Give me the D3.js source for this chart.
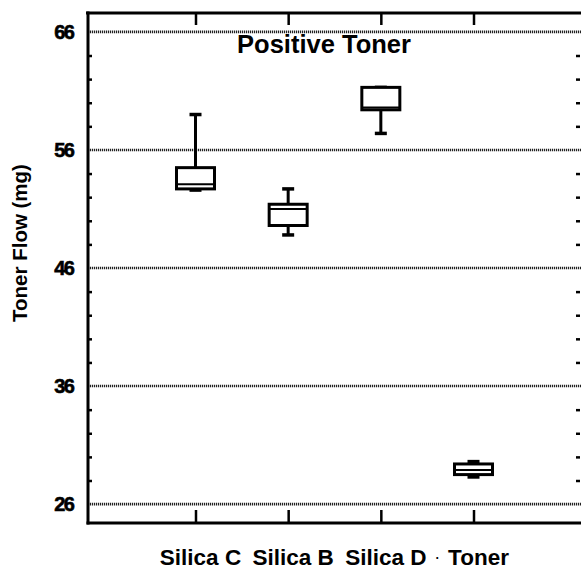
<!DOCTYPE html>
<html>
<head>
<meta charset="utf-8">
<script src="https://cdn.jsdelivr.net/npm/d3@7"></script>
<style>
  body { margin: 0; background: #fff; }
  svg { display: block; font-family: "Liberation Sans", Arial, sans-serif; }
</style>
</head>
<body>
<div id="chart"></div>
<script>
const categories = ['Silica C', 'Silica B', 'Silica D', 'Toner'];
const mins = [52.6, 48.8, 57.4, 28.3];
const q1s = [52.7, 49.6, 59.4, 28.5];
const medians = [53.1, 51.0, 59.6, 28.9];
const q3s = [54.5, 51.4, 61.3, 29.4];
const maxs = [59.0, 52.7, 61.3, 29.6];
const yTicks = [26, 36, 46, 56, 66];
const title = 'Positive Toner';
const yLabel = 'Toner Flow (mg)';

const W = 581, H = 571;
const plotLeft = 88, plotRight = 581, plotTop = 13, plotBottom = 523;

const svg = d3.select('#chart')
  .append('svg')
  .attr('width', W)
  .attr('height', H);

const x = d3.scalePoint()
  .domain(categories)
  .range([plotLeft, plotRight])
  .padding(1.16);

const y = d3.scaleLinear()
  .domain([24.4, 67.6])
  .range([plotBottom, plotTop]);

// dotted grid lines at the labelled values
svg.append('g')
  .selectAll('line')
  .data(yTicks)
  .enter()
  .append('line')
  .attr('x1', plotLeft)
  .attr('x2', plotRight)
  .attr('y1', d => y(d))
  .attr('y2', d => y(d))
  .attr('stroke', '#222')
  .attr('stroke-width', 2.6)
  .attr('stroke-dasharray', '1.2,0.8');

// minor ticks every 2 units, left and right
const minor = d3.range(26, 67, 2).filter(d => !yTicks.includes(d));
svg.append('g')
  .call(d3.axisRight(y).tickValues(minor).tickSize(4).tickFormat(''))
  .attr('transform', 'translate(' + plotLeft + ',0)')
  .call(g => g.select('.domain').remove())
  .selectAll('line').attr('stroke-width', 2.5);
svg.append('g')
  .call(d3.axisLeft(y).tickValues(minor).tickSize(4).tickFormat(''))
  .attr('transform', 'translate(' + (plotRight - 1) + ',0)')
  .call(g => g.select('.domain').remove())
  .selectAll('line').attr('stroke-width', 2.5);

// frame: top, left, bottom
svg.append('line')
  .attr('x1', plotLeft - 2).attr('x2', plotRight).attr('y1', plotTop).attr('y2', plotTop)
  .attr('stroke', '#000').attr('stroke-width', 3);
svg.append('line')
  .attr('x1', plotLeft).attr('x2', plotLeft).attr('y1', plotTop - 1.5).attr('y2', plotBottom + 1.5)
  .attr('stroke', '#000').attr('stroke-width', 3);
svg.append('line')
  .attr('x1', plotLeft - 1.5).attr('x2', plotRight).attr('y1', plotBottom).attr('y2', plotBottom)
  .attr('stroke', '#000').attr('stroke-width', 3);

// category ticks, top and bottom, pointing inward
svg.append('g')
  .attr('transform', 'translate(0,' + plotTop + ')')
  .call(d3.axisBottom(x).tickSize(12).tickFormat(''))
  .call(g => g.select('.domain').remove())
  .selectAll('line').attr('stroke-width', 2.5);
svg.append('g')
  .attr('transform', 'translate(0,' + plotBottom + ')')
  .call(d3.axisTop(x).tickSize(13).tickFormat(''))
  .call(g => g.select('.domain').remove())
  .selectAll('line').attr('stroke-width', 2.5);

// y tick labels
svg.append('g')
  .selectAll('text')
  .data(yTicks)
  .enter()
  .append('text')
  .attr('x', 73)
  .attr('y', d => y(d) + 7)
  .attr('text-anchor', 'end')
  .attr('font-size', 20)
  .attr('font-weight', 'bold')
  .attr('letter-spacing', -1.8)
  .attr('stroke', '#000')
  .attr('stroke-width', 0.6)
  .text(d => d);

// boxes
const boxW = 38, capW = 12;
const boxes = svg.append('g')
  .selectAll('g')
  .data(categories)
  .enter()
  .append('g');

boxes.append('line')
  .attr('x1', d => x(d)).attr('x2', d => x(d))
  .attr('y1', (d, i) => y(maxs[i])).attr('y2', (d, i) => y(mins[i]))
  .attr('stroke', '#000').attr('stroke-width', 3);

boxes.selectAll('.cap')
  .data((d, i) => [{ c: d, v: mins[i] }, { c: d, v: maxs[i] }])
  .enter()
  .append('line')
  .attr('class', 'cap')
  .attr('x1', d => x(d.c) - capW / 2).attr('x2', d => x(d.c) + capW / 2)
  .attr('y1', d => y(d.v)).attr('y2', d => y(d.v))
  .attr('stroke', '#000').attr('stroke-width', 3.5);

boxes.append('rect')
  .attr('x', d => x(d) - boxW / 2)
  .attr('y', (d, i) => y(q3s[i]))
  .attr('width', boxW)
  .attr('height', (d, i) => y(q1s[i]) - y(q3s[i]))
  .attr('fill', '#fff')
  .attr('stroke', '#000')
  .attr('stroke-width', 3);

boxes.append('line')
  .attr('x1', d => x(d) - boxW / 2).attr('x2', d => x(d) + boxW / 2)
  .attr('y1', (d, i) => y(medians[i])).attr('y2', (d, i) => y(medians[i]))
  .attr('stroke', '#000').attr('stroke-width', 2);

// title
svg.append('text')
  .attr('x', 324)
  .attr('y', 53)
  .attr('text-anchor', 'middle')
  .attr('font-size', 25.5)
  .attr('font-weight', 'bold')
  .text(title);

// y axis label
svg.append('text')
  .attr('transform', 'translate(27,243) rotate(-90)')
  .attr('text-anchor', 'middle')
  .attr('font-size', 20.5)
  .attr('font-weight', 'bold')
  .text(yLabel);

// category labels
svg.append('g')
  .selectAll('text')
  .data(categories)
  .enter()
  .append('text')
  .attr('x', d => x(d) + 5)
  .attr('y', 565)
  .attr('text-anchor', 'middle')
  .attr('font-size', 22.5)
  .attr('font-weight', 'bold')
  .text(d => d);

svg.append('text')
  .attr('x', (x('Silica D') + x('Toner')) / 2 + 10)
  .attr('y', 563)
  .attr('text-anchor', 'middle')
  .attr('font-size', 18)
  .text('·');
</script>
</body>
</html>
